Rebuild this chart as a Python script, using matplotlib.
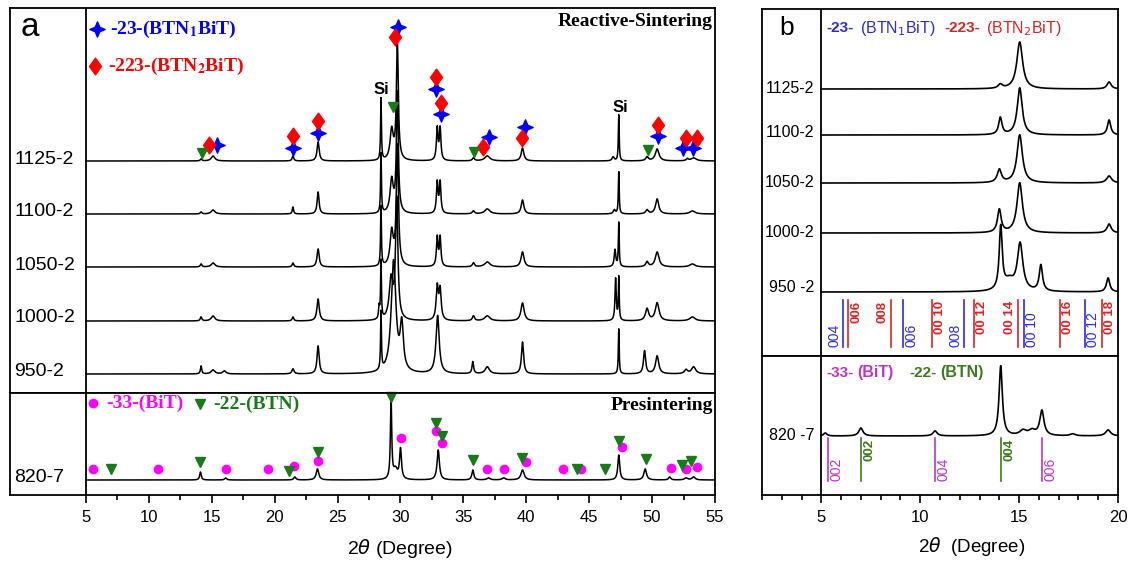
import numpy as np
import matplotlib
matplotlib.use('Agg')
import matplotlib.pyplot as plt
from matplotlib.path import Path

# ---------------- data (peak position [deg], height, fwhm) ----------------
samples_a = ['1125-2', '1100-2', '1050-2', '1000-2', '950-2']
peaks_1125 = [(14.15, 2, 0.15), (15.1, 5, 0.35), (21.45, 5, 0.15), (23.45, 19, 0.2), (28.45, 62, 0.08),
              (29.3, 30, 0.3), (29.75, 118, 0.18), (32.92, 32, 0.15), (33.15, 32, 0.15), (35.8, 3, 0.2),
              (36.9, 5, 0.5), (39.7, 13, 0.25), (46.9, 4, 0.2), (47.35, 46, 0.08), (49.6, 4, 0.25),
              (50.4, 12, 0.35), (52.8, 2, 0.2), (53.3, 3, 0.5)]
peaks_1100 = [(14.15, 2, 0.15), (15.1, 4, 0.35), (21.45, 7, 0.12), (23.45, 22, 0.18), (28.45, 60, 0.08),
              (29.3, 33, 0.3), (29.75, 120, 0.18), (32.92, 31, 0.15), (33.15, 31, 0.15), (35.8, 3, 0.2),
              (36.9, 5, 0.5), (39.7, 14, 0.25), (47.0, 4, 0.2), (47.35, 42, 0.08), (49.6, 4, 0.25),
              (50.4, 15, 0.3), (53.2, 3, 0.5)]
peaks_1050 = [(14.15, 3, 0.15), (15.1, 4, 0.35), (21.45, 4, 0.15), (23.45, 18, 0.2), (28.45, 60, 0.08),
              (29.3, 34, 0.3), (29.75, 120, 0.2), (32.92, 29, 0.15), (33.15, 29, 0.15), (35.8, 4, 0.2),
              (36.9, 5, 0.5), (39.7, 15, 0.28), (47.05, 17, 0.15), (47.35, 44, 0.08), (49.6, 5, 0.25),
              (50.4, 15, 0.35), (53.2, 3, 0.5)]
peaks_1000 = [(14.15, 4, 0.15), (15.1, 5, 0.35), (21.45, 4, 0.15), (23.45, 22, 0.22), (28.3, 12, 0.1),
              (28.45, 58, 0.08), (29.25, 40, 0.35), (29.7, 120, 0.22), (32.92, 33, 0.2), (33.15, 30, 0.2),
              (35.8, 5, 0.2), (36.9, 5, 0.5), (39.7, 18, 0.3), (47.1, 42, 0.12), (47.35, 43, 0.08),
              (49.6, 12, 0.3), (50.4, 18, 0.35), (53.2, 4, 0.5)]
peaks_950 = [(14.15, 8, 0.12), (15.1, 4, 0.35), (16.0, 3, 0.3), (21.45, 5, 0.2), (23.45, 28, 0.2),
             (28.45, 58, 0.08), (29.45, 112, 0.45), (30.1, 45, 0.3), (32.95, 58, 0.3), (35.75, 12, 0.15),
             (36.9, 7, 0.4), (39.7, 32, 0.2), (47.35, 45, 0.08), (49.4, 23, 0.2), (50.4, 18, 0.3),
             (52.7, 4, 0.3), (53.3, 7, 0.4)]
peaks_820 = [(14.1, 8, 0.15), (16.1, 2, 0.2), (21.6, 3, 0.2), (23.4, 11, 0.25), (29.25, 83, 0.12),
             (29.6, 10, 0.4), (30.0, 30, 0.18), (33.0, 30, 0.22), (35.75, 10, 0.18), (37.0, 2, 0.3),
             (38.2, 2, 0.3), (39.7, 10, 0.3), (47.35, 25, 0.18), (49.45, 11, 0.25), (51.4, 3, 0.2),
             (52.7, 2, 0.3), (53.3, 3, 0.3)]

# marker positions (2theta, height) in panel a
star_a = [(15.41, 248), (21.43, 245), (23.42, 260), (29.83, 366), (32.82, 304), (33.22, 279), (37.01, 256),
          (39.9, 266), (50.5, 257), (52.42, 245), (53.28, 245)]
diam_a = [(14.8, 248), (21.43, 257), (23.42, 272), (29.56, 356), (32.82, 316), (33.22, 290), (36.53, 246),
          (39.63, 255), (50.5, 268), (52.7, 255), (53.54, 255)]
tri_a_top = [(14.25, 240), (29.43, 286), (35.87, 241), (49.65, 243)]
circ_a = [(5.53, 26), (10.75, 26), (16.13, 26), (19.49, 26), (21.53, 29), (23.47, 34), (30.04, 57),
          (32.82, 64), (33.27, 52), (36.9, 26), (38.25, 26), (39.98, 33), (42.89, 26), (44.35, 26),
          (47.63, 48), (51.5, 27), (52.7, 26), (53.54, 28)]
tri_a_bot = [(6.96, 26), (14.06, 33), (21.14, 24), (23.47, 43), (29.22, 98), (32.82, 72), (33.27, 59),
             (35.74, 35), (39.63, 37), (44.0, 26), (46.28, 26), (47.37, 54), (49.49, 36), (52.35, 30),
             (53.07, 34)]

# panel b
samples_b = ['1125-2', '1100-2', '1050-2', '1000-2', '950 -2']
b_1125 = [(14.05, 4, 0.25), (15.03, 47, 0.35), (19.55, 7, 0.25)]
b_1100 = [(14.05, 17, 0.2), (15.03, 47, 0.3), (19.55, 15, 0.2)]
b_1050 = [(14.0, 13, 0.25), (15.03, 48, 0.33), (19.55, 7, 0.3)]
b_1000 = [(14.0, 23, 0.22), (15.03, 50, 0.33), (19.55, 9, 0.25)]
b_950 = [(14.07, 63, 0.18), (14.5, 10, 0.6), (15.05, 47, 0.33), (16.1, 26, 0.2), (19.5, 14, 0.2)]
b_820 = [(5.2, 3, 0.2), (7.0, 8, 0.25), (10.75, 5, 0.25), (14.07, 70, 0.2), (15.2, 5, 0.4),
         (15.65, 5, 0.4), (16.15, 25, 0.25), (17.7, 2, 0.3), (19.5, 6, 0.3)]

hkl_blue_pos = [6.10, 9.13, 12.21, 15.25, 18.33]
hkl_blue_lab = ['004', '006', '008', '00 10', '00 12']
hkl_red_pos = [6.35, 8.52, 10.59, 12.72, 14.94, 17.07, 19.19]
hkl_red_lab = ['006', '008', '00 10', '00 12', '00 14', '00 16', '00 18']
hkl_mag_pos = [5.34, 10.75, 16.16]
hkl_mag_lab = ['002', '004', '006']
hkl_grn_pos = [7.0, 14.08]
hkl_grn_lab = ['002', '004']

# ---------------- styling / layout ----------------
blue_side = [-1, 1, -1, 1, 1]
red_side = [1, -1, 1, 1, -1, 1, 1]

BLUE, RED, GRN, MAG = '#0000ff', '#ff0000', '#1a7a1a', '#ff00ff'
bBLUE, bRED, bMAG, bGRN = '#2a2ae8', '#dd2222', '#bb33cc', '#3a7a1a'

plt.rcParams['font.family'] = ['Liberation Sans', 'DejaVu Sans']
W, H = 1131, 568
fig = plt.figure(figsize=(W / 100, H / 100), dpi=100)


def add_ax(l, t, r, b):
    ax = fig.add_axes([l / W, 1 - b / H, (r - l) / W, (b - t) / H])
    for s in ax.spines.values():
        s.set_linewidth(1.3)
    ax.set_yticks([])
    return ax


def profile(x, peaks):
    y = np.zeros_like(x)
    for p, h, w in peaks:
        y += h / (1 + ((x - p) / (w / 2)) ** 2)
    return y


verts = [(0, 1), (0.3, 0.3), (1, 0), (0.3, -0.3), (0, -1), (-0.3, -0.3), (-1, 0), (-0.3, 0.3), (0, 1)]
codes = [Path.MOVETO] + [Path.LINETO] * 7 + [Path.CLOSEPOLY]
STAR = Path(verts, codes)
DIAM = Path([(0, 1), (0.72, 0), (0, -1), (-0.72, 0), (0, 1)], [Path.MOVETO] + [Path.LINETO] * 3 + [Path.CLOSEPOLY])

serif = dict(family=['Liberation Serif', 'DejaVu Serif'], weight='bold', math_fontfamily='stix')

# ================= panel a =================
axa = add_ax(10, 8, 715, 393)
axa2 = add_ax(10, 393, 715, 495)
for ax in (axa, axa2):
    ax.set_xlim(-1.04, 55)
    ax.axvline(5, color='k', lw=1.3)
axa.set_ylim(0, 385)
axa2.set_ylim(0, 102)
axa.set_xticks([])

xa = np.linspace(5, 55, 5001)
offs_a = [232, 179, 126, 72, 19]
lab_y_a = [233, 181, 127, 75, 22]
for pk, off, name, ly in zip([peaks_1125, peaks_1100, peaks_1050, peaks_1000, peaks_950], offs_a,
                             samples_a, lab_y_a):
    axa.plot(xa, off + profile(xa, pk), color='k', lw=1.1)
    axa.text(-0.72, ly, name, fontsize=14, ha='left', va='center')

axa2.plot(xa, 15 + profile(xa, peaks_820), color='k', lw=1.1)
axa2.text(-0.72, 17, '820-7', fontsize=14, ha='left', va='center')

ms = dict(linestyle='none', clip_on=False)
axa.plot(*zip(*star_a), marker=STAR, color=BLUE, markersize=11, **ms)
axa.plot(*zip(*diam_a), marker=DIAM, color=RED, markersize=12, **ms)
axa.plot(*zip(*tri_a_top), marker='v', color=GRN, markersize=7, **ms)
axa2.plot(*zip(*circ_a), marker='o', color=MAG, markersize=7, markeredgewidth=0, **ms)
axa2.plot(*zip(*tri_a_bot), marker='v', color=GRN, markersize=7, **ms)

# legends panel a
axa.plot([5.85], [364], marker=STAR, color=BLUE, markersize=11, **ms)
axa.text(6.9, 364, r'-23-(BTN$_\mathbf{1}$BiT)', color=BLUE, fontsize=14, va='center', ha='left', **serif)
axa.plot([5.72], [327], marker=DIAM, color=RED, markersize=12, **ms)
axa.text(6.75, 327, r'-223-(BTN$_\mathbf{2}$BiT)', color=RED, fontsize=14, va='center', ha='left', **serif)
axa.text(54.84, 371, 'Reactive-Sintering', fontsize=14, ha='right', va='center', **serif)
axa.text(0.55, 365, 'a', fontsize=24, ha='center', va='center')
axa.text(28.45, 303, 'Si', fontsize=12, fontweight='bold', ha='center', va='center')
axa.text(47.45, 285, 'Si', fontsize=12, fontweight='bold', ha='center', va='center')

axa2.plot([5.53], [92], marker='o', color=MAG, markersize=7, markeredgewidth=0, **ms)
axa2.text(6.64, 92, '-33-(BiT)', color=MAG, fontsize=14, va='center', ha='left', **serif)
axa2.plot([14.06], [91], marker='v', color=GRN, markersize=7, **ms)
axa2.text(15.12, 91, '-22-(BTN)', color=GRN, fontsize=14, va='center', ha='left', **serif)
axa2.text(54.84, 90, 'Presintering', fontsize=14, ha='right', va='center', **serif)

axa2.set_xticks(np.arange(5, 56, 5))
axa2.set_xticks(np.arange(7.5, 55, 5), minor=True)
axa2.tick_params(axis='x', which='major', direction='out', length=6, width=1.2, labelsize=12, pad=5)
axa2.tick_params(axis='x', which='minor', direction='out', length=3.5, width=1.2)
fig.text(400 / W, 1 - 548 / H, r'2$\theta$ (Degree)', fontsize=14, ha='center', va='center')

# ================= panel b =================
axb = add_ax(762, 9, 1118, 356)
axb2 = add_ax(762, 356, 1118, 495)
for ax in (axb, axb2):
    ax.set_xlim(2, 20)
    ax.axvline(5, color='k', lw=1.3)
axb.set_ylim(0, 347)
axb2.set_ylim(0, 139)
axb.set_xticks([])

xb = np.linspace(5, 20, 3001)
offs_b = [267, 221, 173, 123, 64]
lab_y_b = [268, 224, 174, 124, 69]
for pk, off, name, ly in zip([b_1125, b_1100, b_1050, b_1000, b_950], offs_b, samples_b, lab_y_b):
    axb.plot(xb, off + profile(xb, pk), color='k', lw=1.2)
    axb.text(4.65, ly, name, fontsize=11.5, ha='right', va='center')
axb2.plot(xb, 59 + profile(xb, b_820), color='k', lw=1.2)
axb2.text(4.65, 60, '820 -7', fontsize=11.5, ha='right', va='center')

for pos, lab, side in zip(hkl_blue_pos, hkl_blue_lab, blue_side):
    axb.plot([pos, pos], [9, 56], color=bBLUE, lw=1.2)
    axb.text(pos + side * 0.42, 9, lab, rotation=90, color=bBLUE, fontsize=10, ha='center', va='bottom')
for pos, lab, side in zip(hkl_red_pos, hkl_red_lab, red_side):
    axb.plot([pos, pos], [9, 56], color=bRED, lw=1.2)
    axb.text(pos + side * 0.42, 55, lab, rotation=90, color=bRED, fontsize=9.5, fontweight='bold',
             ha='center', va='top')
for pos, lab in zip(hkl_mag_pos, hkl_mag_lab):
    axb2.plot([pos, pos], [14, 57], color=bMAG, lw=1.2)
    axb2.text(pos + 0.42, 14, lab, rotation=90, color=bMAG, fontsize=10, ha='center', va='bottom')
for pos, lab in zip(hkl_grn_pos, hkl_grn_lab):
    axb2.plot([pos, pos], [14, 57], color=bGRN, lw=1.2)
    axb2.text(pos + 0.42, 56, lab, rotation=90, color=bGRN, fontsize=9.5, fontweight='bold',
              ha='center', va='top')

axb.text(3.26, 328, 'b', fontsize=19, ha='center', va='center')
axb.text(5.24, 328, '-23-', color=bBLUE, fontsize=11, fontweight='bold', va='center')
axb.text(6.97, 328, r'(BTN$_1$BiT)', color=bBLUE, fontsize=11.5, va='center')
axb.text(11.2, 328, '-223-', color=bRED, fontsize=11, fontweight='bold', va='center')
axb.text(13.35, 328, r'(BTN$_2$BiT)', color=bRED, fontsize=11.5, va='center')
axb2.text(5.24, 122, '-33-', color=bMAG, fontsize=11, fontweight='bold', va='center')
axb2.text(6.8, 122, '(BiT)', color=bMAG, fontsize=11.5, fontweight='bold', va='center')
axb2.text(9.45, 122, '-22-', color=bGRN, fontsize=11, fontweight='bold', va='center')
axb2.text(11.0, 122, '(BTN)', color=bGRN, fontsize=11.5, fontweight='bold', va='center')

axb2.set_xticks([5, 10, 15, 20])
axb2.set_xticks([2, 3, 4, 6, 7, 8, 9, 11, 12, 13, 14, 16, 17, 18, 19], minor=True)
axb2.tick_params(axis='x', which='major', direction='out', length=6, width=1.2, labelsize=12, pad=5)
axb2.tick_params(axis='x', which='minor', direction='out', length=3.5, width=1.2)
fig.text(972 / W, 1 - 546 / H, r'2$\theta$  (Degree)', fontsize=13.5, ha='center', va='center')

fig.savefig('out.png', dpi=100)
